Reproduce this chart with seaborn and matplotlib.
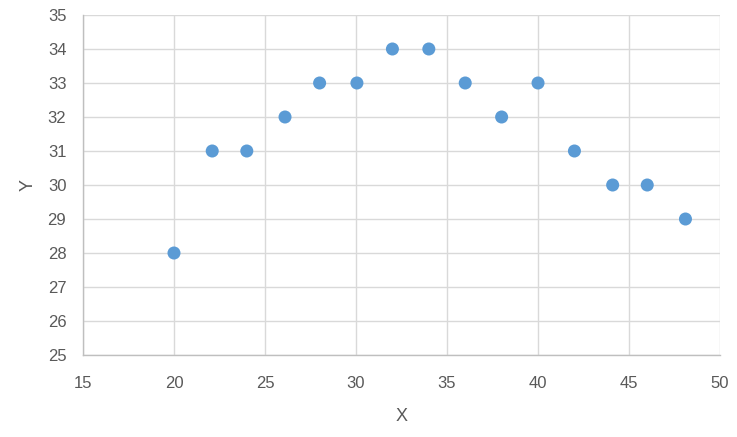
import matplotlib
matplotlib.use("Agg")
import matplotlib.pyplot as plt
import seaborn as sns
import pandas as pd

# --- data ---
x_vals = [20, 22.1, 24, 26.1, 28, 30.05, 32, 34, 36, 38, 40, 42, 44.1, 46, 48.1]
y_vals = [28, 31, 31, 32, 33, 33, 34, 34, 33, 32, 33, 31, 30, 30, 29]
x_ticks = [15, 20, 25, 30, 35, 40, 45, 50]
y_ticks = list(range(25, 36))

df = pd.DataFrame({"X": x_vals, "Y": y_vals})

sns.set_theme(style="white")
plt.rcParams['font.family'] = ['Liberation Sans', 'DejaVu Sans']

fig = plt.figure(figsize=(7.37, 4.37), dpi=100)
ax = fig.add_axes([0.1126, 0.1876, 0.8644, 0.7781])

sns.scatterplot(data=df, x="X", y="Y", ax=ax, color="#5B9BD5",
                s=88, edgecolor="none", zorder=3)

ax.set_xlim(15, 50)
ax.set_ylim(25, 35)
ax.set_xticks(x_ticks)
ax.set_yticks(y_ticks)
ax.grid(True, color="#d9d9d9", linewidth=1)
ax.set_axisbelow(True)

for side in ["top", "right"]:
    ax.spines[side].set_visible(False)
for side in ["left", "bottom"]:
    ax.spines[side].set_color("#bfbfbf")
    ax.spines[side].set_linewidth(1)

ax.tick_params(axis="both", length=0, labelsize=12, labelcolor="#595959")
ax.tick_params(axis="x", pad=15)
ax.tick_params(axis="y", pad=12)
ax.set_xlabel("X", fontsize=13, color="#595959", labelpad=12)
ax.set_ylabel("Y", fontsize=13, color="#595959", labelpad=8)

fig.savefig("out.png", dpi=100)
